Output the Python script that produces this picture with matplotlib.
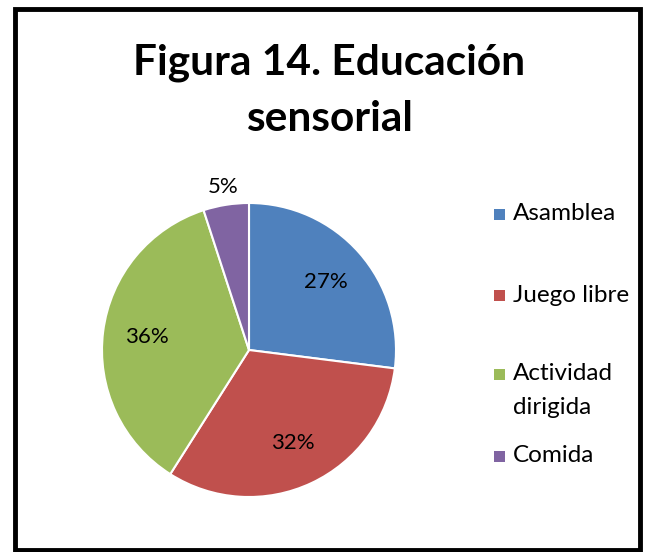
import matplotlib.pyplot as plt
import numpy as np
from matplotlib.patches import Rectangle

# data
categories = ['Asamblea', 'Juego libre', 'Actividad\ndirigida', 'Comida']
values = [27, 32, 36, 5]
colors = ['#4F81BD', '#C0504D', '#9BBB59', '#8064A2']

plt.rcParams['font.family'] = ['Lato', 'DejaVu Sans']

W, H = 645, 552
fig = plt.figure(figsize=(W / 100, H / 100), dpi=100)

# outer frame
fig.patches.append(Rectangle((15 / W, 2 / H), 625 / W, 541 / H, transform=fig.transFigure,
                             fill=False, edgecolor='black', linewidth=3.5))

# title
fig.text(329 / W, 1 - 63 / H, 'Figura 14. Educación', ha='center', va='center',
         fontsize=30.5, fontweight='bold')
fig.text(329 / W, 1 - 119 / H, 'sensorial', ha='center', va='center',
         fontsize=30.5, fontweight='bold')

# pie, center (249, 350) px, radius 147 px
cx, cy, r = 249, 350, 147
ax = fig.add_axes([(cx - r) / W, (H - cy - r) / H, 2 * r / W, 2 * r / H])
wedges, _ = ax.pie(values, colors=colors, startangle=90, counterclock=False,
                   wedgeprops=dict(edgecolor='white', linewidth=1.5))
ax.set_xlim(-1, 1)
ax.set_ylim(-1, 1)

for w, v in zip(wedges, values):
    mid = np.deg2rad((w.theta1 + w.theta2) / 2)
    d = 1.12 if v < 10 else 0.7
    ax.text(d * np.cos(mid), d * np.sin(mid), f'{v}%', ha='center', va='center',
            fontsize=16, clip_on=False)

# legend (y = centre of first text line, px from top)
leg_y = [214, 295, 374, 456]
line_step = 33
for name, c, y in zip(categories, colors, leg_y):
    fig.patches.append(Rectangle((494 / W, 1 - (y + 6) / H), 11 / W, 11 / H,
                                 transform=fig.transFigure, facecolor=c, edgecolor='none'))
    for i, line in enumerate(name.split('\n')):
        fig.text(513 / W, 1 - (y + i * line_step) / H, line, ha='left', va='center',
                 fontsize=17.5)

fig.savefig('out.png', dpi=100)
